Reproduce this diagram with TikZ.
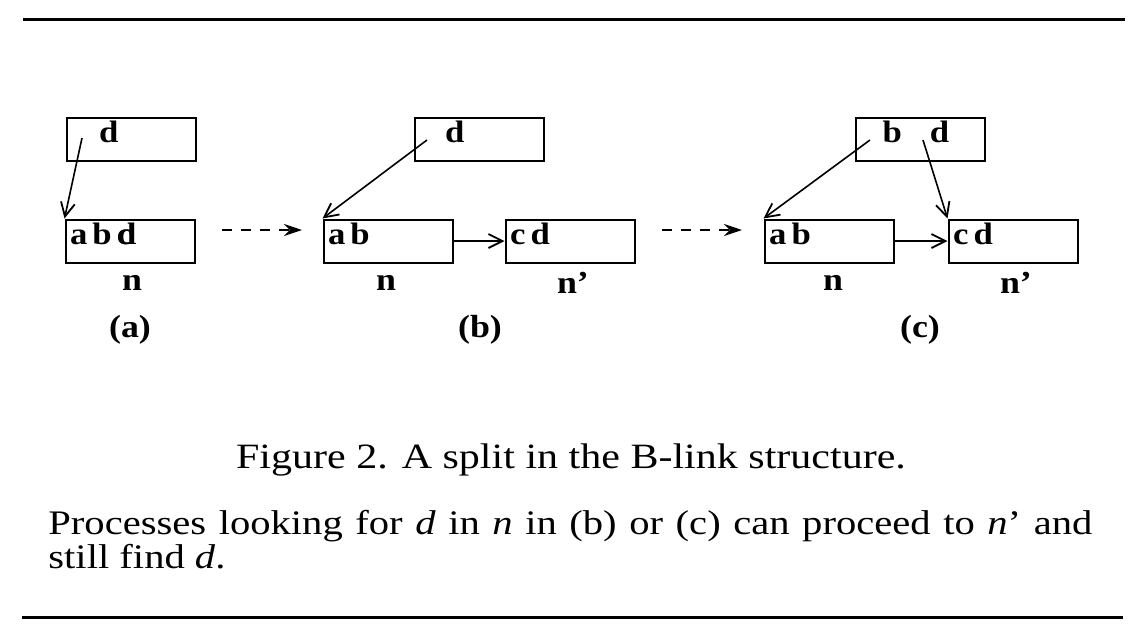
\documentclass[tikz,border=0pt]{standalone}
\usepackage{fontspec}
\setmainfont{Liberation Serif}
\newfontfamily\widefont[FakeStretch=1.18]{Liberation Serif}
\newfontfamily\boxfont[FakeStretch=1.12]{Liberation Serif}
\usetikzlibrary{arrows.meta}
\begin{document}
\begin{tikzpicture}[x=0.5pt,y=-0.5pt,
  box/.style={draw, line width=1pt, minimum width=64.5pt, minimum height=21.5pt,
    text width=60pt, align=left, inner xsep=2pt, inner ysep=1.25pt,
    text height=11pt, text depth=8pt, font=\boxfont\fontsize{15.5}{15.5}\selectfont\bfseries},
  lbl/.style={inner sep=0pt, font=\boxfont\fontsize{16}{16}\selectfont\bfseries},
  ptr/.style={line width=0.8pt, -{Straight Barb[length=7pt,width=7pt,line width=0.9pt]}},
  stage/.style={line width=0.9pt, dash pattern=on 5pt off 4.5pt, -{Stealth[length=9pt,width=6pt]}},
  rule/.style={line width=1.5pt}
]
\useasboundingbox (0,0) rectangle (1142,632);
% rules
\coordinate (r1a) at (23,19); \coordinate (r1b) at (1125,19);
\coordinate (r2a) at (22,617); \coordinate (r2b) at (1123,617);
\draw[rule] (r1a) -- (r1b);
\draw[rule] (r2a) -- (r2b);
% (a)
\node[box] (atop) at (131,139.5) {\hspace{14pt}d};
\node[box] (an) at (130,241) {a\,b\,\rlap{c}d};
\node[lbl] (anl) at (132,283) {n};
\node[lbl] (al) at (130,330) {(a)};
\coordinate (ap) at (82,138);
\draw[ptr] (ap) -- (an.north west);
% stage arrow 1
\coordinate (s1a) at (222,230); \coordinate (s1b) at (302,230);
\draw[stage] (s1a) -- (s1b);
% (b)
\node[box] (btop) at (479,139.5) {\hspace{13pt}d};
\node[box] (bn) at (388,241) {a\,b};
\node[box] (bnp) at (570,241) {c\,d};
\node[lbl] (bnl) at (386,283) {n};
\node[lbl] (bnpl) at (573,283) {n’};
\node[lbl] (bl) at (480,330) {(b)};
\coordinate (bp) at (427,140);
\draw[ptr] (bp) -- (bn.north west);
\draw[ptr] (bn.east) -- (bnp.west);
% stage arrow 2
\coordinate (s2a) at (662,230); \coordinate (s2b) at (742,230);
\draw[stage] (s2a) -- (s2b);
% (c)
\node[box] (ctop) at (920.5,139.5) {\hspace{11pt}b\hspace{14pt}d};
\node[box] (cn) at (829,241) {a\,b};
\node[box] (cnp) at (1013,241) {c\,d};
\node[lbl] (cnl) at (833,283) {n};
\node[lbl] (cnpl) at (1016,283) {n’};
\node[lbl] (cl) at (920,330) {(c)};
\coordinate (cp1) at (870,140);
\coordinate (cp2) at (923,140);
\draw[ptr] (cp1) -- (cn.north west);
\draw[ptr] (cp2) -- (cnp.north west);
\draw[ptr] (cn.east) -- (cnp.west);
% caption and text
\node[inner sep=0pt, font=\widefont\fontsize{17.8}{18}\selectfont] (cap) at (571,460) {Figure 2. A split in the B-link structure.};
\node[inner sep=0pt, anchor=north west, text width=522pt, align=justify,
  font=\widefont\fontsize{17.2}{16.8}\selectfont] (par) at (48,510)
  {Processes looking for \textit{d} in \textit{n} in (b) or (c) can proceed to \textit{n}’ and\linebreak still find \textit{d}.};
\end{tikzpicture}
\end{document}
